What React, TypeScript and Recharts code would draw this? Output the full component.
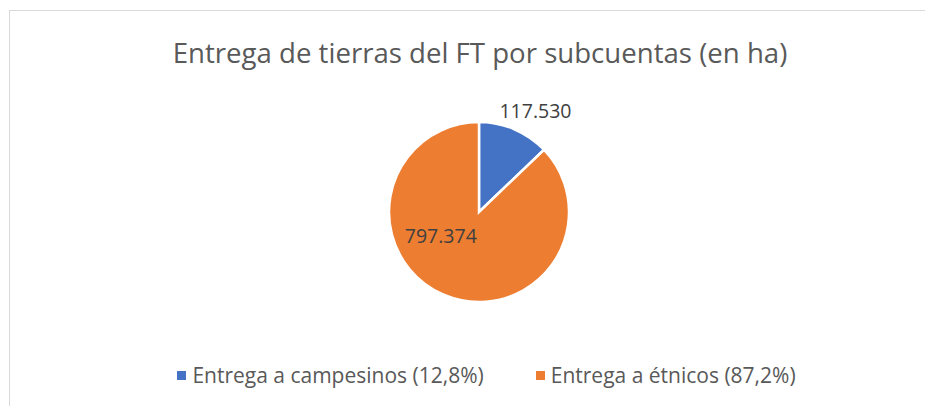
import React from "react";
import { PieChart, Pie, Cell, Legend } from "recharts";

const categories = ["Entrega a campesinos", "Entrega a étnicos"];
const values = [117530, 797374];
const valueLabels = ["117.530", "797.374"];
const shareLabels = ["12,8%", "87,2%"];
const colors = ["#4472C4", "#ED7D31"];
const title = "Entrega de tierras del FT por subcuentas (en ha)";

const data = categories.map((name, i) => ({
  name,
  value: values[i],
  label: valueLabels[i],
  share: shareLabels[i],
  color: colors[i],
}));

const FONT = "'Open Sans', 'Noto Sans', sans-serif";
const RAD = Math.PI / 180;

const renderLabel = (props: any) => {
  const { cx, cy, midAngle, outerRadius, index } = props;
  let r: number;
  let ang: number;
  if (index === 0) {
    r = outerRadius + 26;
    ang = midAngle - 6;
  } else {
    r = outerRadius * 0.5;
    ang = midAngle - 35;
  }
  const x = cx + r * Math.cos(-ang * RAD);
  const y = cy + r * Math.sin(-ang * RAD);
  return (
    <text
      x={x}
      y={y}
      textAnchor="middle"
      dominantBaseline="central"
      fill="#404040"
      fontSize={19.5}
      fontFamily={FONT}
    >
      {data[index].label}
    </text>
  );
};

const renderLegend = () => (
  <div
    style={{
      display: "flex",
      justifyContent: "center",
      alignItems: "center",
      fontFamily: FONT,
      fontSize: 21,
      color: "#595959",
      gap: 52,
    }}
  >
    {data.map((d) => (
      <div key={d.name} style={{ display: "flex", alignItems: "center" }}>
        <span
          style={{
            display: "inline-block",
            width: 9,
            height: 9,
            background: d.color,
            marginRight: 6,
          }}
        />
        <span>{`${d.name} (${d.share})`}</span>
      </div>
    ))}
  </div>
);

export default function App() {
  return (
    <div
      style={{
        position: "relative",
        width: 933,
        height: 406,
        margin: "-8px 0 0 -8px",
        background: "#fff",
        overflow: "hidden",
      }}
    >
      <div
        style={{
          position: "absolute",
          left: 9,
          top: 10,
          width: 940,
          height: 420,
          borderTop: "1px solid #d9d9d9",
          borderLeft: "1px solid #d9d9d9",
          boxSizing: "border-box",
        }}
      />
      <PieChart
        width={933}
        height={406}
        margin={{ top: 0, right: 0, bottom: 0, left: 0 }}
        style={{ position: "absolute", left: 0, top: 0 }}
      >
        <text
          x={480}
          y={52}
          textAnchor="middle"
          dominantBaseline="central"
          fill="#595959"
          fontSize={27.6}
          fontFamily={FONT}
        >
          {title}
        </text>
        <Pie
          data={data}
          dataKey="value"
          nameKey="name"
          cx={479}
          cy={212}
          outerRadius={90}
          startAngle={90}
          endAngle={-270}
          stroke="#ffffff"
          strokeWidth={2.5}
          label={renderLabel}
          labelLine={false}
          isAnimationActive={false}
        >
          {data.map((d) => (
            <Cell key={d.name} fill={d.color} />
          ))}
        </Pie>
        <Legend
          content={renderLegend}
          verticalAlign="bottom"
          wrapperStyle={{ bottom: 17, left: 20, width: 933 }}
        />
      </PieChart>
    </div>
  );
}
